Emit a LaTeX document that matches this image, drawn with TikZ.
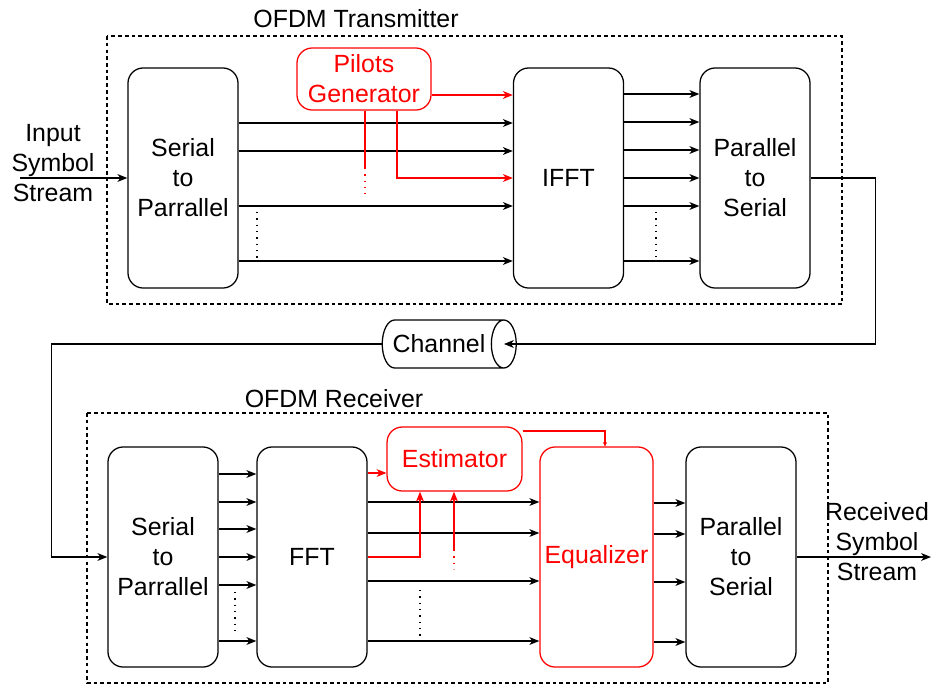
\documentclass[tikz,border=0pt]{standalone}
\usepackage{fontspec}
\setmainfont{Liberation Sans}
\usetikzlibrary{arrows.meta,shapes.geometric,positioning,calc}

\begin{document}
\begin{tikzpicture}[x=0.025cm, y=-0.025cm,
    font=\fontsize{17.7}{21.3}\selectfont,
    blk/.style={draw, line width=0.9pt, rounded corners=0.38cm, align=center,
      minimum width=2.75cm, minimum height=5.5cm},
    redblk/.style={blk, draw=red, text=red},
    sig/.style={line width=0.9pt, -{Stealth[length=7pt,width=5.5pt,inset=2pt]}},
    redsig/.style={sig, red},
    dots/.style={line width=0.9pt, dash pattern=on 0.9pt off 3.6pt},
    frame/.style={draw, line width=0.8pt, dash pattern=on 2.6pt off 2.2pt}]
    \useasboundingbox (0,0) rectangle (932,684);

    % Transmitter
    \draw[frame] (107,36) rectangle (842,304);
    \node (txtitle) at (356,19) {OFDM Transmitter};

    \node[blk] (sptx) at (183,178) {Serial\\to\\Parrallel};
    \node[blk] (ifft) at (568.5,178) {IFFT};
    \node[blk] (pstx) at (755,178) {Parallel\\to\\Serial};
    \node[redblk, minimum width=3.35cm, minimum height=1.55cm] (pilots) at (364,79)
      {Pilots\\Generator};

    \node[align=center] (inlabel) at (53,163) {Input\\Symbol\\Stream};
    \coordinate (inpt) at (20,178);
    \draw[sig] (inpt) -- (sptx.west |- inpt);

    \foreach \y in {123,151,206,261}
      \draw[sig] (sptx.east |- 0,\y) -- (ifft.west |- 0,\y);
    \foreach \y in {94,122,150,178,206,261}
      \draw[sig] (ifft.east |- 0,\y) -- (pstx.west |- 0,\y);

    \draw[redsig] (pilots.east |- 0,95) -- (ifft.west |- 0,95);
    \draw[redsig] (pilots.south -| 397,0) |- (ifft.west |- 0,178);
    \coordinate (pdot) at (365,168);
    \draw[red, line width=0.9pt] (pilots.south -| pdot) -- (pdot);
    \draw[red, dots] (pdot) -- ++(0,26);

    \draw[dots] (257,212) -- (257,258);
    \draw[dots] (656,212) -- (656,257);

    % Channel
    \node[draw, line width=0.9pt, cylinder, aspect=0.9, minimum width=1.2cm,
      minimum height=3.35cm, inner xsep=2pt] (chan) at (439,344) {Channel};
    \coordinate (chanin) at ($(chan.east)+(-13,0)$);
    \draw[sig] (pstx.east) -- ++(65,0) |- (chanin);

    % Receiver
    \draw[frame] (87,413) rectangle (828,683);
    \node (rxtitle) at (334,399) {OFDM Receiver};

    \node[blk] (sprx) at (163,557) {Serial\\to\\Parrallel};
    \node[blk] (fft) at (312,557) {FFT};
    \node[redblk] (eq) at (596.5,557) {Equalizer};
    \node[blk] (psrx) at (741,557) {Parallel\\to\\Serial};
    \node[redblk, minimum width=3.37cm, minimum height=1.6cm] (est) at (454.5,459)
      {Estimator};

    \draw[sig] (chan.west) -| ($(sprx.west)+(-56,0)$) -- (sprx.west);

    \foreach \y in {474,502,529,557,585,641}
      \draw[sig] (sprx.east |- 0,\y) -- (fft.west |- 0,\y);
    \foreach \y in {502,533,581,641}
      \draw[sig] (fft.east |- 0,\y) -- (eq.west |- 0,\y);
    \foreach \y in {503,534,582,642}
      \draw[sig] (eq.east |- 0,\y) -- (psrx.west |- 0,\y);

    \draw[redsig] (fft.east |- 0,473) -- (est.west |- 0,473);
    \draw[redsig] (fft.east |- 0,557) -| (est.south -| 420,0);
    \coordinate (edot) at (454,550);
    \draw[redsig] (edot) -- (est.south -| edot);
    \draw[red, dots] (edot) -- ++(0,19);
    \draw[red, line width=0.9pt, -{Stealth[length=3pt,width=3pt]}]
      (est.east |- 0,431) -| (eq.north -| 605,0);

    \draw[dots] (235,592) -- (235,635);
    \draw[dots] (420,590) -- (420,636);

    \node[align=center] (outlabel) at (877,542) {Received\\Symbol\\Stream};
    \coordinate (outpt) at (931,557);
    \draw[sig] (psrx.east) -- (outpt);
\end{tikzpicture}
\end{document}
